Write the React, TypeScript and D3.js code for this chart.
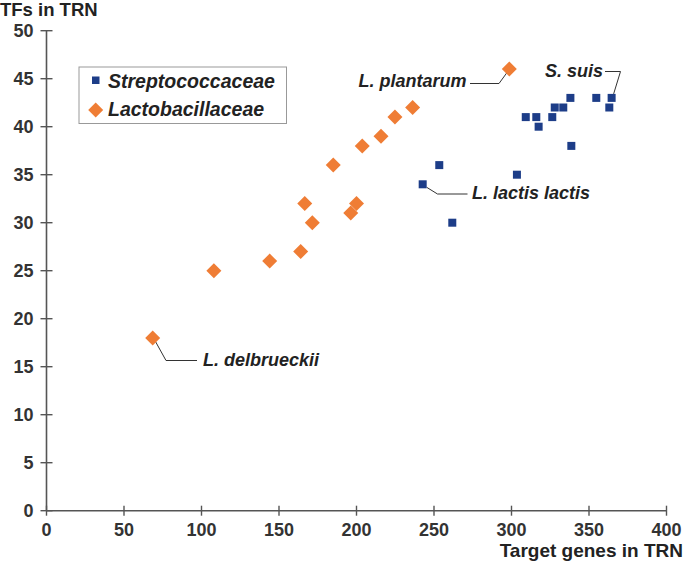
import React from "react";
import * as d3 from "d3";

const strepX = [338, 354.7, 364.6, 363.1, 327.9, 333.4, 309.2, 316, 326.3, 317.5, 338.6, 253.4, 303.5, 242.7, 261.8];
const strepY = [43, 43, 43, 42, 42, 42, 41, 41, 41, 40, 38, 36, 35, 34, 30];

const lactoX = [68.5, 108, 144, 164, 166.6, 171.5, 185, 196.3, 200, 203.7, 215.8, 224.8, 236.2, 298.6];
const lactoY = [18, 25, 26, 27, 32, 30, 36, 31, 32, 38, 39, 41, 42, 46];

const xTicks = [0, 50, 100, 150, 200, 250, 300, 350, 400];
const yTicks = [0, 5, 10, 15, 20, 25, 30, 35, 40, 45, 50];

const seriesNames = ["Streptococcaceae", "Lactobacillaceae"];
const annotations = [
  { name: "L. plantarum", x: 298.6, y: 46 },
  { name: "S. suis", x: 364.6, y: 43 },
  { name: "L. lactis lactis", x: 242.7, y: 34 },
  { name: "L. delbrueckii", x: 68.5, y: 18 },
];

const BLUE = "#1d3d88";
const ORANGE = "#ef7d35";
const AXIS = "#555";
const TEXT = "#222";
const FONT = "'Liberation Sans', Arial, Helvetica, sans-serif";

export default function App() {
  const W = 685, H = 561;
  const x = d3.scaleLinear().domain([0, 400]).range([46.5, 666.5]);
  const y = d3.scaleLinear().domain([0, 50]).range([510.7, 30.7]);

  const diamond = (cx: number, cy: number, r: number) =>
    `M${cx},${cy - r}L${cx + r},${cy}L${cx},${cy + r}L${cx - r},${cy}Z`;

  const strep = strepX.map((v, i) => [v, strepY[i]]);
  const lacto = lactoX.map((v, i) => [v, lactoY[i]]);

  const ap = (i: number) => [x(annotations[i].x), y(annotations[i].y)];
  const [pX, pY] = ap(0);
  const [sX, sY] = ap(1);
  const [lX, lY] = ap(2);
  const [dX, dY] = ap(3);

  const annStyle = { fontFamily: FONT, fontWeight: 700, fontStyle: "italic", fontSize: 18, fill: TEXT } as const;

  return (
    <svg width={W} height={H} style={{ position: "absolute", left: 0, top: 0, background: "#fff" }}>
      {/* axes */}
      <line x1={x(0)} x2={x(400)} y1={y(0)} y2={y(0)} stroke={AXIS} strokeWidth={1.6} />
      <line x1={x(0)} x2={x(0)} y1={y(0)} y2={y(50)} stroke={AXIS} strokeWidth={1.6} />
      {xTicks.map((t) => (
        <g key={"xt" + t}>
          <line x1={x(t)} x2={x(t)} y1={y(0) - 5} y2={y(0) + 5} stroke={AXIS} strokeWidth={1.4} />
          <text x={x(t)} y={536} textAnchor="middle" style={{ fontFamily: FONT, fontWeight: 700, fontSize: 18, fill: "#333" }}>
            {t}
          </text>
        </g>
      ))}
      {yTicks.map((t) => (
        <g key={"yt" + t}>
          <line x1={x(0) - 6} x2={x(0) + 6} y1={y(t)} y2={y(t)} stroke={AXIS} strokeWidth={1.4} />
          <text x={33.5} y={y(t) + 6.5} textAnchor="end" style={{ fontFamily: FONT, fontWeight: 700, fontSize: 18, fill: "#333" }}>
            {t}
          </text>
        </g>
      ))}
      <text x={0} y={16} style={{ fontFamily: FONT, fontWeight: 700, fontSize: 18.5, fill: TEXT }}>TFs in TRN</text>
      <text x={683} y={556.5} textAnchor="end" style={{ fontFamily: FONT, fontWeight: 700, fontSize: 19, fill: TEXT }}>
        Target genes in TRN
      </text>

      {/* annotation leader lines */}
      <g fill="none" stroke="#333" strokeWidth={1}>
        <polyline points={`470,83.5 499,83.5 ${pX - 2},${pY + 3}`} />
        <polyline points={`605,71.5 620.5,71.5 ${sX + 2},${sY - 4}`} />
        <polyline points={`${lX + 4},${lY + 3} 437.5,194 467.5,194`} />
        <polyline points={`${dX + 3},${dY + 4} 166,360.5 197,360.5`} />
      </g>
      <text x={358.5} y={87} style={annStyle}>{annotations[0].name}</text>
      <text x={545} y={77} style={annStyle}>{annotations[1].name}</text>
      <text x={472} y={198.5} style={annStyle}>{annotations[2].name}</text>
      <text x={203} y={366} style={annStyle}>{annotations[3].name}</text>

      {/* points */}
      {lacto.map(([a, b], i) => (
        <path key={"l" + i} d={diamond(x(a), y(b), 7.5)} fill={ORANGE} />
      ))}
      {strep.map(([a, b], i) => (
        <rect key={"s" + i} x={x(a) - 4} y={y(b) - 4} width={8} height={8} fill={BLUE} />
      ))}

      {/* legend */}
      <rect x={79} y={67} width={207.5} height={56.5} fill="#fff" stroke="#999" strokeWidth={1} />
      <rect x={92} y={76.5} width={7.5} height={7.5} fill={BLUE} />
      <path d={diamond(95.7, 110, 7.5)} fill={ORANGE} />
      <text x={108} y={87.5} style={{ fontFamily: FONT, fontWeight: 700, fontStyle: "italic", fontSize: 19.5, fill: TEXT }}>
        {seriesNames[0]}
      </text>
      <text x={108} y={116} style={{ fontFamily: FONT, fontWeight: 700, fontStyle: "italic", fontSize: 19.5, fill: TEXT }}>
        {seriesNames[1]}
      </text>
    </svg>
  );
}
